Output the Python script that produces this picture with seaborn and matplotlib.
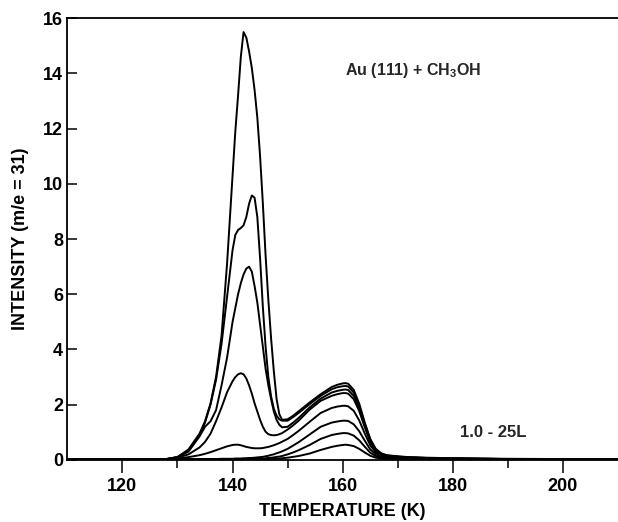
import numpy as np
import pandas as pd
import matplotlib
matplotlib.use("Agg")
import matplotlib.pyplot as plt
import seaborn as sns

# temperature grid (K) the curves were read at
TEMPS = [110, 120, 126, 128, 130, 132, 134, 135, 136, 137,
         138, 139, 140, 140.5, 141, 141.5, 142, 142.5, 143, 143.5,
         144, 144.5, 145, 145.5, 146, 146.5, 147, 147.5, 148, 148.5,
         149, 150, 151, 152, 154, 156, 158, 159, 160, 160.5,
         161, 162, 163, 164, 165, 166, 167, 168, 170, 172,
         175, 180, 185, 190, 200, 210]

# intensity (m/e = 31), one list per exposure, smallest to largest
CURVE_1 = [0.02, 0.02, 0.02, 0.02, 0.02, 0.02, 0.02, 0.02, 0.02, 0.02,
           0.02, 0.02, 0.02, 0.02, 0.02, 0.02, 0.02, 0.02, 0.02, 0.02,
           0.02, 0.02, 0.02, 0.03, 0.03, 0.03, 0.04, 0.04, 0.05, 0.05,
           0.06, 0.08, 0.11, 0.14, 0.23, 0.36, 0.47, 0.51, 0.54, 0.55,
           0.54, 0.50, 0.40, 0.27, 0.15, 0.08, 0.05, 0.04, 0.03, 0.03,
           0.03, 0.02, 0.02, 0.02, 0.02, 0.02]
CURVE_2 = [0.02, 0.02, 0.02, 0.02, 0.02, 0.02, 0.02, 0.02, 0.02, 0.02,
           0.02, 0.02, 0.03, 0.03, 0.03, 0.03, 0.03, 0.04, 0.04, 0.04,
           0.04, 0.05, 0.05, 0.05, 0.06, 0.07, 0.08, 0.09, 0.11, 0.12,
           0.14, 0.20, 0.27, 0.35, 0.54, 0.76, 0.90, 0.94, 0.97, 0.97,
           0.96, 0.88, 0.71, 0.48, 0.26, 0.14, 0.08, 0.06, 0.05, 0.04,
           0.04, 0.03, 0.03, 0.02, 0.02, 0.02]
CURVE_3 = [0.02, 0.02, 0.02, 0.02, 0.02, 0.02, 0.03, 0.03, 0.03, 0.03,
           0.04, 0.04, 0.04, 0.05, 0.05, 0.05, 0.06, 0.06, 0.07, 0.07,
           0.08, 0.09, 0.10, 0.11, 0.13, 0.15, 0.18, 0.20, 0.24, 0.27,
           0.31, 0.40, 0.52, 0.64, 0.92, 1.20, 1.35, 1.39, 1.42, 1.42,
           1.41, 1.29, 1.04, 0.70, 0.38, 0.20, 0.12, 0.08, 0.06, 0.05,
           0.04, 0.03, 0.03, 0.03, 0.02, 0.02]
CURVE_4 = [0.02, 0.02, 0.02, 0.03, 0.05, 0.10, 0.17, 0.22, 0.28, 0.35,
           0.42, 0.49, 0.54, 0.55, 0.55, 0.53, 0.50, 0.47, 0.45, 0.43,
           0.42, 0.42, 0.42, 0.43, 0.45, 0.47, 0.50, 0.53, 0.57, 0.61,
           0.66, 0.76, 0.90, 1.05, 1.38, 1.70, 1.88, 1.93, 1.96, 1.96,
           1.94, 1.78, 1.43, 0.96, 0.53, 0.27, 0.16, 0.11, 0.08, 0.07,
           0.05, 0.04, 0.03, 0.03, 0.02, 0.02]
CURVE_5 = [0.02, 0.02, 0.02, 0.03, 0.08, 0.20, 0.45, 0.65, 0.95, 1.40,
           1.90, 2.45, 2.85, 3.00, 3.10, 3.14, 3.10, 2.95, 2.70, 2.40,
           2.05, 1.75, 1.45, 1.20, 1.02, 0.93, 0.90, 0.89, 0.90, 0.93,
           0.97, 1.10, 1.25, 1.42, 1.82, 2.14, 2.32, 2.38, 2.42, 2.42,
           2.40, 2.20, 1.77, 1.19, 0.66, 0.34, 0.20, 0.14, 0.10, 0.08,
           0.06, 0.05, 0.04, 0.03, 0.03, 0.02]
CURVE_6 = [0.02, 0.02, 0.02, 0.03, 0.10, 0.30, 0.85, 1.20, 1.40, 1.80,
           2.70, 3.70, 5.00, 5.50, 6.00, 6.40, 6.72, 6.93, 7.00, 6.82,
           6.30, 5.70, 4.90, 4.10, 3.30, 2.70, 2.20, 1.75, 1.45, 1.27,
           1.18, 1.20, 1.35, 1.52, 1.90, 2.22, 2.44, 2.50, 2.54, 2.55,
           2.53, 2.32, 1.86, 1.25, 0.69, 0.36, 0.21, 0.15, 0.11, 0.09,
           0.07, 0.05, 0.04, 0.03, 0.03, 0.02]
CURVE_7 = [0.02, 0.02, 0.02, 0.03, 0.10, 0.35, 0.90, 1.35, 2.00, 2.90,
           4.20, 5.90, 7.60, 8.15, 8.33, 8.40, 8.50, 8.80, 9.28, 9.58,
           9.50, 8.80, 7.30, 5.55, 4.10, 3.00, 2.30, 1.85, 1.60, 1.47,
           1.42, 1.42, 1.55, 1.70, 2.02, 2.32, 2.56, 2.63, 2.67, 2.68,
           2.66, 2.44, 1.96, 1.31, 0.73, 0.38, 0.22, 0.16, 0.12, 0.09,
           0.07, 0.05, 0.04, 0.03, 0.03, 0.02]
CURVE_8 = [0.02, 0.02, 0.02, 0.03, 0.10, 0.38, 0.95, 1.40, 2.05, 3.00,
           4.50, 7.10, 10.3, 11.9, 13.2, 14.6, 15.5, 15.3, 14.8, 14.2,
           13.4, 12.4, 11.0, 9.30, 7.40, 5.80, 4.40, 3.20, 2.20, 1.65,
           1.45, 1.47, 1.60, 1.76, 2.08, 2.38, 2.64, 2.72, 2.77, 2.78,
           2.76, 2.54, 2.04, 1.36, 0.76, 0.40, 0.24, 0.17, 0.13, 0.10,
           0.08, 0.06, 0.05, 0.04, 0.03, 0.03]

CURVES = [CURVE_1, CURVE_2, CURVE_3, CURVE_4, CURVE_5, CURVE_6, CURVE_7, CURVE_8]

X_TICKS = [120, 140, 160, 180, 200]
X_MINOR = [130, 150, 170, 190]
Y_TICKS = [0, 2, 4, 6, 8, 10, 12, 14, 16]


def build_frame() -> pd.DataFrame:
    parts = []
    for i, vals in enumerate(CURVES):
        parts.append(pd.DataFrame({"T": TEMPS, "I": vals, "curve": f"c{i + 1}"}))
    return pd.concat(parts, ignore_index=True)


def main():
    sns.set_theme(style="ticks")
    plt.rcParams["font.family"] = ["Liberation Sans", "DejaVu Sans"]
    plt.rcParams["font.weight"] = "bold"
    plt.rcParams["mathtext.fontset"] = "custom"
    plt.rcParams["mathtext.rm"] = "Liberation Sans:bold"

    df = build_frame()

    fig = plt.figure(figsize=(6.18, 5.22), dpi=100)
    ax = fig.add_axes([0.109, 0.119, 0.891, 0.846])

    sns.lineplot(data=df, x="T", y="I", hue="curve",
                 palette=["black"] * len(CURVES), legend=False,
                 estimator=None, sort=False, lw=1.4, ax=ax)

    ax.set_xlim(110, 210)
    ax.set_ylim(0, 16)
    ax.set_xticks(X_TICKS)
    ax.set_xticks(X_MINOR, minor=True)
    ax.set_yticks(Y_TICKS)

    for side in ["left", "top", "bottom"]:
        ax.spines[side].set_color("black")
        ax.spines[side].set_linewidth(1.3)
    ax.spines["right"].set_visible(False)

    ax.tick_params(axis="x", which="major", direction="out", length=9, width=1.1,
                   labelsize=13, pad=4, colors="black")
    ax.tick_params(axis="x", which="minor", direction="out", length=6, width=1.1,
                   colors="black")
    ax.tick_params(axis="y", which="major", direction="in", length=7, width=1.1,
                   labelsize=13, pad=3, colors="black")
    ax.tick_params(axis="y", which="minor", left=False, right=False)

    ax.set_xlabel("TEMPERATURE (K)", fontsize=13, fontweight="bold", labelpad=6, color="black")
    ax.set_ylabel("INTENSITY (m/e = 31)", fontsize=13, fontweight="bold", labelpad=10, color="black")

    ax.text(160.4, 14.1, "Au (111) + CH$_3$OH", fontsize=11.5, fontweight="bold",
            ha="left", va="center")
    ax.text(181.3, 0.98, "1.0 - 25L", fontsize=12, fontweight="bold", ha="left", va="center")

    fig.savefig("out.png", dpi=100, facecolor="white")


if __name__ == "__main__":
    main()
